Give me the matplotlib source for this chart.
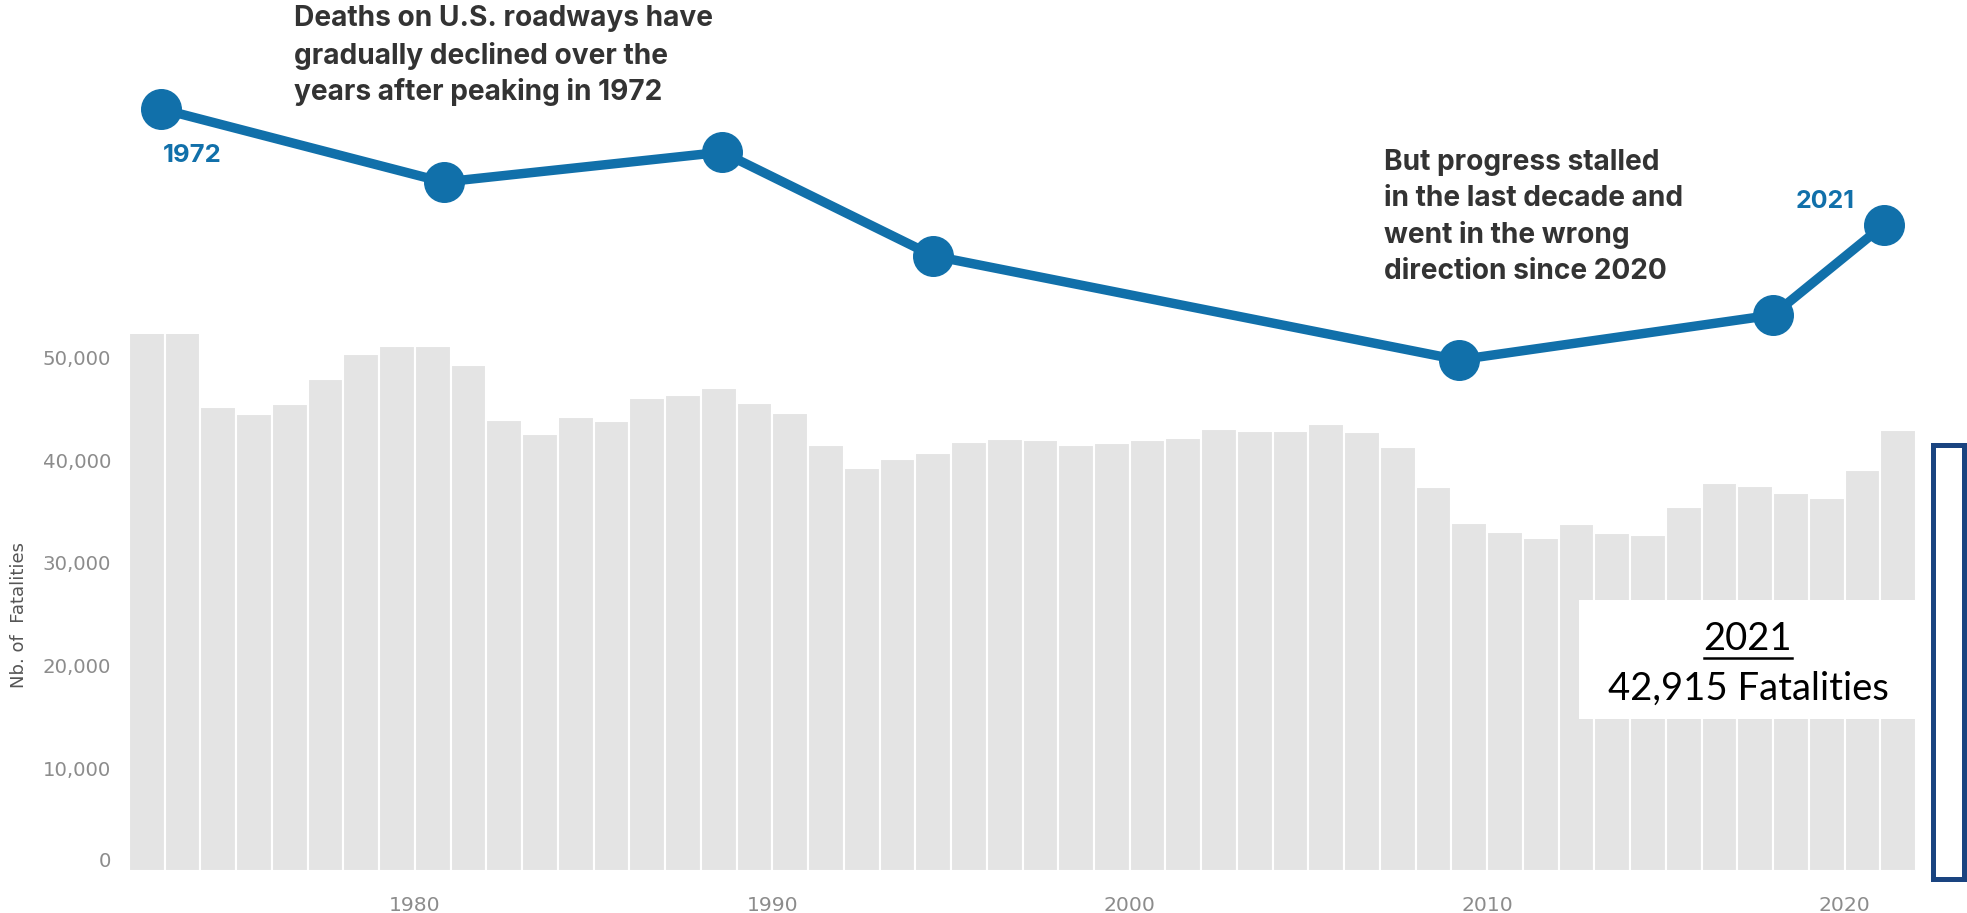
import matplotlib
matplotlib.use("Agg")
import matplotlib.pyplot as plt
from matplotlib.patches import Rectangle
from matplotlib.lines import Line2D
from matplotlib.ticker import FuncFormatter

# ---------------- data ----------------
years = list(range(1972, 2022))
fatalities = [54589, 54052, 45196, 44525, 45523, 47878, 50331, 51093, 51091, 49301,
              43945, 42589, 44257, 43825, 46087, 46390, 47087, 45582, 44599, 41508,
              39250, 40150, 40716, 41817, 42065, 42013, 41501, 41717, 41945, 42196,
              43005, 42884, 42836, 43510, 42708, 41259, 37423, 33883, 32999, 32479,
              33782, 32893, 32744, 35484, 37806, 37473, 36835, 36355, 39007, 42915]
x_ticks = [1980, 1990, 2000, 2010, 2020]
y_ticks = [0, 10000, 20000, 30000, 40000, 50000]

# stylised trend line drawn above the bars (relative index, no axis)
trend_years = [1972.9, 1980.8, 1988.6, 1994.5, 2009.2, 2018.0, 2021.1]
trend_index = [85.6, 64.1, 72.9, 42.4, 11.8, 25.0, 51.5]
trend_labels = {0: "1972", 6: "2021"}

note_left = ["Deaths on U.S. roadways have",
             "gradually declined over the",
             "years after peaking in 1972"]
note_right = ["But progress stalled",
              "in the last decade and",
              "went in the wrong",
              "direction since 2020"]
box_year = "2021"
box_text = "42,915 Fatalities"

# ---------------- layout ----------------
W, H = 1967, 913
fig = plt.figure(figsize=(W / 100, H / 100), dpi=100)
fig.patch.set_facecolor("white")
renderer = fig.canvas.get_renderer()

def fx(px):
    return px / W

def fy(py):
    return 1 - py / H

def fit(t, target_w):
    w = t.get_window_extent(renderer).width
    t.set_fontsize(t.get_fontsize() * target_w / w)
    return t

BLUE = "#1170aa"
BAR = "#e4e4e4"
TXT = "#333333"
TICK = "#8c8c8c"
NOTE_FONT = ["Inter", "DejaVu Sans"]

x0, x1 = 129, 1916
yb, yt = 871, 334
ax = fig.add_axes([fx(x0), fy(yb), fx(x1) - fx(x0), fy(yt) - fy(yb)])
ax.bar(years, fatalities, width=1.0, align="edge", color=BAR,
       edgecolor="white", linewidth=1.5)
ax.set_xlim(1972, 2022)
ax.set_ylim(0, 52300)
for s in ax.spines.values():
    s.set_visible(False)
ax.set_xticks(x_ticks)
ax.set_xticklabels([str(v) for v in x_ticks])
ax.set_yticks(y_ticks)
ax.yaxis.set_major_formatter(FuncFormatter(lambda v, p: f"{int(v):,}"))

# measure tick font sizes to match reference widths
probe = fig.text(0, 0, "50,000", fontsize=15)
fit(probe, 69)
ysize = probe.get_fontsize()
probe.set_text("2020")
probe.set_fontsize(15)
fit(probe, 52)
xsize = probe.get_fontsize()
probe.remove()

ax.tick_params(axis="y", length=0, pad=13, labelsize=ysize, labelcolor=TICK)
ax.tick_params(axis="x", length=0, pad=18, labelsize=xsize, labelcolor=TICK)
ylabs = ax.get_yticklabels()
ylabs[0].set_va("bottom")

fig.text(fx(19), fy(615), "Nb. of  Fatalities", rotation=90, ha="center",
         va="center", fontsize=13, color="#555555")

# trend line axes
lt, lb = 60, 400
lax = fig.add_axes([fx(x0), fy(lb), fx(x1) - fx(x0), fy(lt) - fy(lb)])
lax.set_xlim(1972, 2022)
lax.set_ylim(0, 100)
lax.axis("off")
lax.patch.set_alpha(0)
lax.plot(trend_years, trend_index, color=BLUE, linewidth=6.8, marker="o",
         markersize=28.5, solid_capstyle="round", clip_on=False, zorder=3)

t1 = fig.text(fx(192), fy(155), trend_labels[0], ha="center", va="center",
              fontsize=15, fontweight="bold", color=BLUE, family=NOTE_FONT)
fit(t1, 59)
t2 = fig.text(fx(1825), fy(202), trend_labels[6], ha="center", va="center",
              fontsize=15, fontweight="bold", color=BLUE, family=NOTE_FONT)
fit(t2, 59)

probe = fig.text(0, 0, note_left[0], fontsize=16, fontweight="bold",
                 family=NOTE_FONT)
fit(probe, 420)
nsize = probe.get_fontsize()
probe.remove()

for i, line in enumerate(note_left):
    fig.text(fx(294), fy(19 + 36.5 * i), line, ha="left", va="center",
             fontsize=nsize, fontweight="bold", color=TXT, family=NOTE_FONT)
for i, line in enumerate(note_right):
    fig.text(fx(1384), fy(162 + 36.5 * i), line, ha="left", va="center",
             fontsize=nsize, fontweight="bold", color=TXT, family=NOTE_FONT)

# white callout box
fig.patches.append(Rectangle((fx(1579), fy(719)), fx(1917) - fx(1579),
                             fy(600) - fy(719), transform=fig.transFigure,
                             facecolor="white", edgecolor="none", zorder=5))
tb = fig.text(fx(1748), fy(700), box_text, ha="center", va="baseline",
              fontsize=24, color="black", family="Lato", zorder=6)
fit(tb, 281)
t_year = fig.text(fx(1748), fy(650), box_year, ha="center", va="baseline",
                  fontsize=tb.get_fontsize(), color="black", family="Lato",
                  zorder=6)

# navy frame at right
fig.patches.append(Rectangle((fx(1933), fy(879)), fx(1964) - fx(1933),
                             fy(445) - fy(879), transform=fig.transFigure,
                             facecolor="white", edgecolor="#1a4480",
                             linewidth=3.6, zorder=5))

bb = t_year.get_window_extent(renderer)
uy = fy(658)
fig.lines.append(Line2D([bb.x0 / W, bb.x1 / W], [uy, uy],
                        transform=fig.transFigure, color="black",
                        linewidth=1.8, zorder=6))

fig.savefig("out.png", dpi=100, facecolor="white")
